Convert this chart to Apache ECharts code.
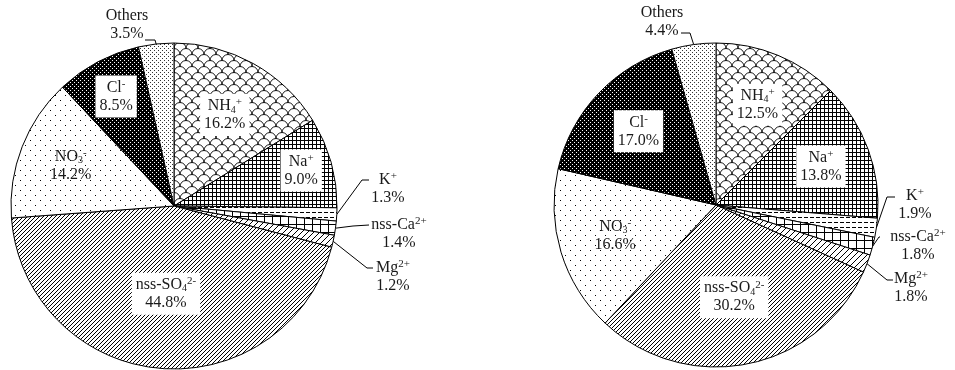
<!DOCTYPE html>
<html><head><meta charset="utf-8">
<script src="https://cdn.jsdelivr.net/npm/echarts@6/dist/echarts.min.js"></script>
<style>html,body{margin:0;padding:0;background:#fff}#c{width:955px;height:370px}</style>
</head><body><div id="c"></div>
<script>
// ---------- data ----------
const ions = ['NH4+', 'Na+', 'K+', 'nss-Ca2+', 'Mg2+', 'nss-SO42-', 'NO3-', 'Cl-', 'Others'];
const ionRich = ['{m|NH}{b|4}{p|+}', '{m|Na}{p|+}', '{m|K}{p|+}', '{m|nss-Ca}{p|2+}', '{m|Mg}{p|2+}',
                 '{m|nss-SO}{b|4}{p|2-}', '{m|NO}{b|3}{p|-}', '{m|Cl}{p|-}', '{m|Others}'];
const leftValues  = [16.2, 9.0, 1.3, 1.4, 1.2, 44.8, 14.2, 8.5, 3.5];
const rightValues = [12.5, 13.8, 1.9, 1.8, 1.8, 30.2, 16.6, 17.0, 4.4];

// ---------- layout (positions / styles) ----------
const layouts = [
  { center: [174, 206], r: 163,
    inner: {0: 0.64, 1: 0.81, 5: 0.54, 6: 0.68, 7: 0.76},
    boxed: {0: 1, 1: 1, 5: 1, 7: 1},
    outer: {
      8: {label: [-47, -181], elbow: [-19, -166], end: [-29, -166]},
      2: {label: [214, -17], elbow: [188, -26], end: [195, -26]},
      3: {label: [225, 28], elbow: [179, 20], end: [195, 19]},
      4: {label: [219, 71], elbow: [193, 62], end: [199, 62]}
    } },
  { center: [716, 205], r: 162,
    inner: {0: 0.67, 1: 0.69, 5: 0.58, 6: 0.65, 7: 0.66},
    boxed: {0: 1, 1: 1, 5: 1, 7: 1},
    outer: {
      8: {label: [-54, -183], elbow: [-26, -172], end: [-35, -172]},
      2: {label: [199, 0], elbow: [171, -8], end: [179, -8]},
      3: {label: [202, 41], elbow: [163, 32], end: [164, 32]},
      4: {label: [195, 83], elbow: [171, 75], end: [177, 75]}
    } }
];

function makePattern(w, h, draw, bg) {
  const c = document.createElement('canvas');
  c.width = w; c.height = h;
  const g = c.getContext('2d');
  g.fillStyle = bg || '#fff'; g.fillRect(0, 0, w, h);
  g.fillStyle = '#000'; g.strokeStyle = '#000';
  draw(g, w, h);
  return {image: c, repeat: 'repeat'};
}
const patterns = [
  // NH4+: scales
  makePattern(12, 12, (g) => {
    g.lineWidth = 0.9;
    for (let x = -12; x <= 24; x += 6) for (let y = -12; y <= 24; y += 6) {
      if ((((x / 6) + (y / 6)) % 2 + 2) % 2 !== 0) continue;
      g.beginPath(); g.arc(x, y + 0.5, 6, Math.PI, 2 * Math.PI); g.stroke();
    }
  }),
  // Na+: small grid
  makePattern(4, 4, (g) => { g.fillRect(0, 0, 4, 1); g.fillRect(0, 0, 1, 4); }),
  // K+: dashed horizontal
  makePattern(6, 5, (g) => { g.fillRect(0, 2, 4, 1); }),
  // nss-Ca2+: large grid
  makePattern(8, 8, (g) => { g.fillRect(0, 0, 8, 1); g.fillRect(0, 0, 1, 8); }),
  // Mg2+: wide diagonal
  makePattern(6, 6, (g) => { for (let i = 0; i < 6; i++) g.fillRect(i, 5 - i, 1, 1); }),
  // nss-SO42-: dense diagonal
  makePattern(4, 4, (g) => { for (let i = 0; i < 4; i++) g.fillRect(i, 3 - i, 1, 1); }),
  // NO3-: sparse dots
  makePattern(10, 10, (g) => { g.fillRect(0, 0, 1, 1); g.fillRect(5, 5, 1, 1); }),
  // Cl-: dark
  makePattern(4, 4, (g) => { g.fillStyle = '#fff'; g.fillRect(0, 0, 1, 1); g.fillRect(2, 2, 1, 1); }, '#000'),
  // Others: fine dots
  makePattern(4, 4, (g) => { g.fillStyle = '#333'; g.fillRect(0, 0, 1, 1); g.fillRect(2, 2, 1, 1); })
];

const FONT = '"Liberation Serif", "Times New Roman", serif';
const TXT = '#1a1a1a';
const rich = {
  m: {fontSize: 16, lineHeight: 18, fontFamily: FONT, color: TXT},
  b: {fontSize: 10, lineHeight: 8, fontFamily: FONT, color: TXT, verticalAlign: 'bottom'},
  p: {fontSize: 11, lineHeight: 10, fontFamily: FONT, color: TXT, verticalAlign: 'top'}
};

function midAngles(values) {
  const total = values.reduce((a, b) => a + b, 0);
  let cum = 0;
  return values.map(v => { const a = (cum + v / 2) / total * 2 * Math.PI; cum += v; return a; });
}

function buildSeries(values, si) {
  const L = layouts[si];
  const data = values.map((v, i) => {
    const item = {value: v, name: ions[i], itemStyle: {color: patterns[i]}};
    if (L.outer[i]) {
      item.label = {position: 'outside', backgroundColor: 'transparent', padding: 0};
      item.labelLine = {show: true, length: 8, length2: 8, lineStyle: {color: '#000', width: 1}};
    } else {
      item.label = {position: 'inside', backgroundColor: L.boxed[i] ? '#fff' : 'transparent', padding: [3, 4]};
      item.labelLine = {show: false};
    }
    return item;
  });
  const angles = midAngles(values);
  return {
    type: 'pie', center: L.center, radius: [0, L.r], startAngle: 90, clockwise: true,
    avoidLabelOverlap: false, minShowLabelAngle: 0, silent: true, animation: false,
    itemStyle: {borderColor: '#000', borderWidth: 1},
    label: {show: true, formatter: p => ionRich[p.dataIndex] + '\n{m|' + p.value.toFixed(1) + '%}',
            rich: rich, fontFamily: FONT, fontSize: 16, color: TXT, align: 'center', lineHeight: 18},
    labelLayout: function (params) {
      const i = params.dataIndex, cx = L.center[0], cy = L.center[1], a = angles[i];
      if (L.outer[i]) {
        const o = L.outer[i];
        const p0 = [cx + L.r * Math.sin(a), cy - L.r * Math.cos(a)];
        return {x: cx + o.label[0], y: cy + o.label[1], align: 'center', verticalAlign: 'middle',
                labelLinePoints: [p0, [cx + o.elbow[0], cy + o.elbow[1]], [cx + o.end[0], cy + o.end[1]]]};
      }
      const rr = L.inner[i] * L.r;
      return {x: cx + rr * Math.sin(a), y: cy - rr * Math.cos(a), align: 'center', verticalAlign: 'middle'};
    },
    data: data
  };
}

const chart = echarts.init(document.getElementById('c'), null, {renderer: 'canvas'});
chart.setOption({
  backgroundColor: '#fff', animation: false,
  series: [buildSeries(leftValues, 0), buildSeries(rightValues, 1)]
});
</script></body></html>
